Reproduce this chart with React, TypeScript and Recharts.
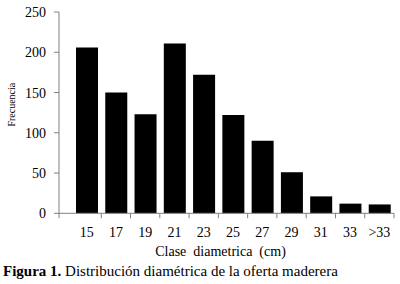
import React from 'react';
import { BarChart, Bar, XAxis, YAxis } from 'recharts';

const classes = ['15', '17', '19', '21', '23', '25', '27', '29', '31', '33', '>33'];
const frequency = [206, 150, 123, 211, 172, 122, 90, 51, 21, 12, 11];
const yTicks = [0, 50, 100, 150, 200, 250];

const data = classes.map((c, i) => ({ clase: c, frecuencia: frequency[i] }));

const FONT = "'Liberation Serif', serif";
const AXIS = '#808080';

// layout of the plot area
const W = 400;
const H = 284;
const LEFT = 59;
const RIGHT_END = 394;
const PAD_LEFT = 13;
const BAND = (RIGHT_END - LEFT - PAD_LEFT) / classes.length;

const textStyle = { fontFamily: FONT };

const ClassTick = (props: any) => {
  const { x, y, payload, index } = props;
  const edge = x + BAND / 2;
  return (
    <g>
      {index === 0 && (
        <line x1={x - BAND / 2 - PAD_LEFT} x2={x - BAND / 2 - PAD_LEFT} y1={y} y2={y + 5} stroke={AXIS} />
      )}
      <line x1={edge} x2={edge} y1={y} y2={y + 5} stroke={AXIS} />
      <text x={x} y={y + 23.5} textAnchor="middle" style={textStyle} fontSize={14} fill="#000">
        {payload.value}
      </text>
    </g>
  );
};

const ValueTick = (props: any) => {
  const { x, y, payload } = props;
  return (
    <text x={x} y={y} dy={5} textAnchor="end" style={textStyle} fontSize={14} fill="#000">
      {payload.value}
    </text>
  );
};

const YTitle = (props: any) => {
  const { viewBox } = props;
  const cx = viewBox.x + 15.5;
  const cy = viewBox.y + viewBox.height / 2 - 8;
  return (
    <text
      x={cx}
      y={cy}
      transform={`rotate(-90, ${cx}, ${cy})`}
      textAnchor="middle"
      style={textStyle}
      fontSize={10}
      fill="#000"
    >
      Frecuencia
    </text>
  );
};

const XTitle = (props: any) => {
  const { viewBox } = props;
  return (
    <text
      x={viewBox.x + viewBox.width / 2 - 6}
      y={256}
      textAnchor="middle"
      style={{ ...textStyle, whiteSpace: 'pre' }}
      fontSize={14}
      fill="#000"
    >
      {'Clase  diametrica  (cm)'}
    </text>
  );
};

export default function App() {
  return (
    <div style={{ position: 'absolute', left: 0, top: 0, width: W, height: H, background: '#fff', fontFamily: FONT }}>
      <BarChart
        width={W}
        height={H}
        data={data}
        margin={{ top: 12, right: W - RIGHT_END, bottom: 40.7, left: 0 }}
      >
        <XAxis
          dataKey="clase"
          height={30}
          padding={{ left: PAD_LEFT, right: 0 }}
          axisLine={{ stroke: AXIS }}
          tickLine={false}
          tickSize={0}
          tickMargin={0}
          interval={0}
          tick={<ClassTick />}
          label={<XTitle />}
        />
        <YAxis
          width={LEFT}
          domain={[0, 250]}
          ticks={yTicks}
          interval={0}
          axisLine={{ stroke: AXIS }}
          tickLine={{ stroke: AXIS }}
          tickSize={5}
          tickMargin={8}
          tick={<ValueTick />}
          label={<YTitle />}
        />
        <Bar dataKey="frecuencia" fill="#000" barSize={22} isAnimationActive={false} />
      </BarChart>
      <svg width={W} height={H} style={{ position: 'absolute', left: 0, top: 0, pointerEvents: 'none' }}>
        <text x={3} y={275.7} style={textStyle} fontSize={15} fill="#000">
          <tspan fontWeight="bold">Figura 1.</tspan>
          <tspan> Distribución diamétrica de la oferta maderera</tspan>
        </text>
      </svg>
    </div>
  );
}
